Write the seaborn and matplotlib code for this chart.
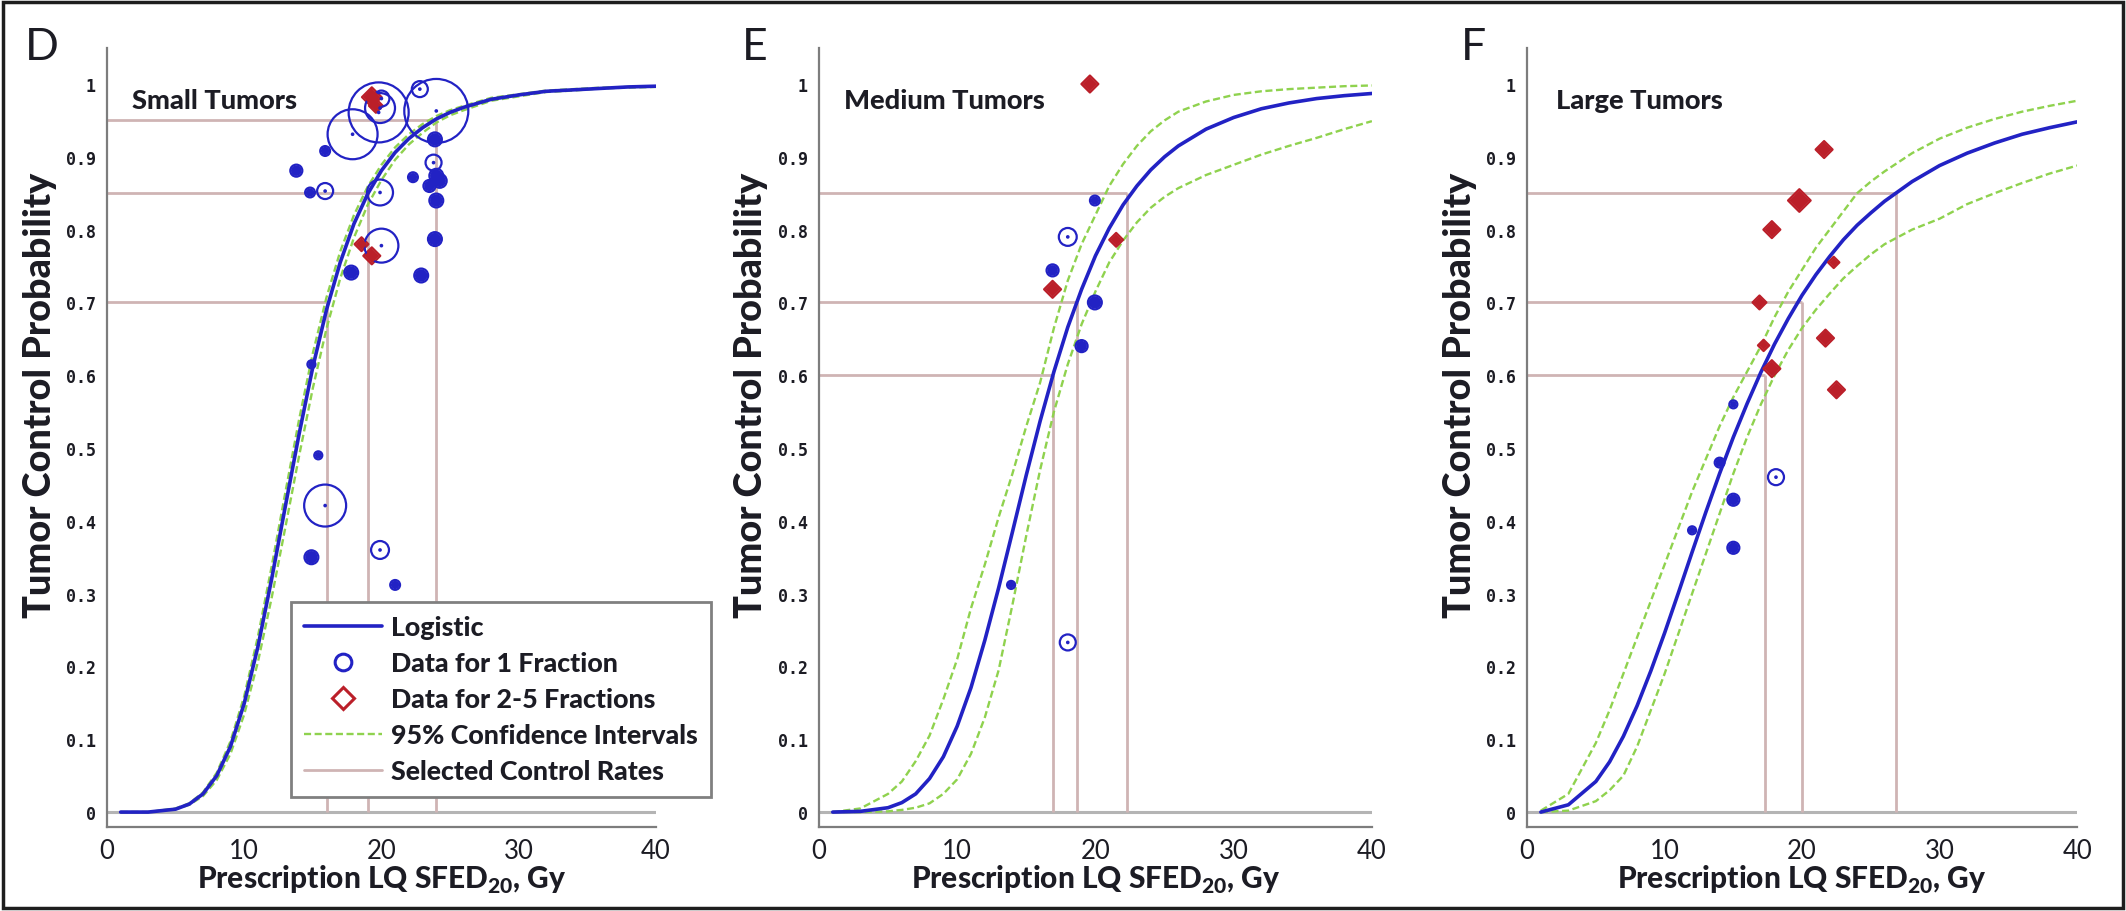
import numpy as np
import pandas as pd
import matplotlib
matplotlib.use("Agg")
import matplotlib.pyplot as plt
from matplotlib import font_manager
from matplotlib.font_manager import FontProperties
from matplotlib.textpath import TextPath
from matplotlib.lines import Line2D
from matplotlib.patches import Rectangle
import seaborn as sns

dose_grid = [1, 3, 5, 6, 7, 8, 9, 10, 11, 12, 13, 14, 15, 16, 17, 18, 19, 20,
             21, 22, 23, 24, 25, 26, 28, 30, 32, 34, 36, 38, 40]

# --- small tumors ---
small_fit = [0.000, 0.000, 0.004, 0.011, 0.025, 0.050, 0.090, 0.149, 0.227, 0.320, 0.420,
             0.519, 0.611, 0.690, 0.755, 0.808, 0.849, 0.881, 0.906, 0.925, 0.940, 0.952,
             0.961, 0.968, 0.979, 0.985, 0.990, 0.992, 0.994, 0.996, 0.997]
small_hi = [0.000, 0.000, 0.005, 0.012, 0.027, 0.054, 0.097, 0.159, 0.241, 0.337, 0.439,
            0.539, 0.630, 0.707, 0.770, 0.820, 0.859, 0.889, 0.913, 0.931, 0.945, 0.956,
            0.964, 0.970, 0.981, 0.986, 0.991, 0.993, 0.995, 0.996, 0.997]
small_lo = [0.000, 0.000, 0.004, 0.010, 0.022, 0.044, 0.080, 0.134, 0.206, 0.294, 0.391,
            0.489, 0.582, 0.664, 0.733, 0.789, 0.834, 0.868, 0.896, 0.917, 0.933, 0.947,
            0.957, 0.964, 0.977, 0.983, 0.989, 0.991, 0.994, 0.995, 0.996]
small_rates = [0.70, 0.85, 0.95]
small_doses = [16.0, 19.0, 24.0]
small_1fx_x = [17.9, 19.8, 19.9, 20.0, 24.0, 22.8, 23.9, 23.8, 24.0, 23.5, 24.25, 24.0, 22.3, 19.9,
               20.0, 23.9, 22.9, 17.8, 13.8, 15.9, 14.8, 15.9, 14.9, 15.4, 15.9, 14.9, 19.9, 21.0]
small_1fx_y = [0.931, 0.961, 0.967, 0.980, 0.963, 0.993, 0.924, 0.892, 0.874, 0.860, 0.867, 0.840,
               0.872, 0.851, 0.778, 0.787, 0.737, 0.741, 0.881, 0.853, 0.851, 0.908, 0.615, 0.490,
               0.421, 0.350, 0.360, 0.312]
small_1fx_n = [156, 225, 56, 16, 256, 16, 12, 16, 12, 9, 12, 12, 6, 42, 72, 12, 12, 12, 9, 16, 6, 6,
               4, 4, 110, 12, 20, 6]
small_mfx_x = [19.3, 19.6, 18.55, 19.3]
small_mfx_y = [0.982, 0.970, 0.780, 0.764]
small_mfx_n = [12, 6, 6, 9]

# --- medium tumors ---
medium_fit = [0.000, 0.001, 0.006, 0.013, 0.025, 0.046, 0.076, 0.118, 0.171, 0.236, 0.308,
              0.385, 0.463, 0.537, 0.605, 0.666, 0.718, 0.764, 0.802, 0.834, 0.860, 0.882,
              0.900, 0.915, 0.938, 0.954, 0.966, 0.974, 0.980, 0.984, 0.987]
medium_hi = [0.000, 0.005, 0.025, 0.042, 0.070, 0.105, 0.155, 0.210, 0.280, 0.340, 0.405,
             0.465, 0.530, 0.590, 0.665, 0.730, 0.780, 0.820, 0.860, 0.890, 0.915, 0.935,
             0.950, 0.962, 0.976, 0.985, 0.990, 0.993, 0.995, 0.997, 0.998]
medium_lo = [0.000, 0.000, 0.001, 0.003, 0.006, 0.012, 0.025, 0.045, 0.080, 0.130, 0.195,
             0.285, 0.380, 0.470, 0.550, 0.615, 0.670, 0.715, 0.755, 0.785, 0.810, 0.830,
             0.845, 0.857, 0.875, 0.889, 0.903, 0.915, 0.926, 0.938, 0.949]
medium_rates = [0.60, 0.70, 0.85]
medium_doses = [16.9, 18.7, 22.3]
medium_1fx_x = [19.96, 18.0, 16.9, 19.96, 19.0, 13.9, 18.0]
medium_1fx_y = [0.840, 0.790, 0.744, 0.700, 0.640, 0.312, 0.233]
medium_1fx_n = [6, 20, 9, 12, 9, 4, 16]
medium_mfx_x = [19.6, 21.5, 16.9]
medium_mfx_y = [1.000, 0.786, 0.718]
medium_mfx_n = [9, 6, 9]

# --- large tumors ---
large_fit = [0.000, 0.010, 0.042, 0.069, 0.104, 0.146, 0.194, 0.246, 0.301, 0.357, 0.412,
             0.465, 0.515, 0.561, 0.604, 0.643, 0.678, 0.710, 0.738, 0.763, 0.786, 0.806,
             0.823, 0.839, 0.866, 0.888, 0.905, 0.919, 0.931, 0.940, 0.948]
large_hi = [0.002, 0.025, 0.095, 0.140, 0.190, 0.240, 0.290, 0.340, 0.390, 0.440, 0.485,
            0.530, 0.570, 0.605, 0.640, 0.680, 0.715, 0.745, 0.775, 0.800, 0.825, 0.850,
            0.866, 0.880, 0.905, 0.925, 0.940, 0.952, 0.962, 0.970, 0.977]
large_lo = [0.000, 0.002, 0.015, 0.030, 0.050, 0.090, 0.140, 0.190, 0.245, 0.300, 0.355,
            0.410, 0.465, 0.515, 0.560, 0.600, 0.635, 0.665, 0.690, 0.712, 0.733, 0.750,
            0.766, 0.780, 0.800, 0.815, 0.835, 0.850, 0.864, 0.877, 0.888]
large_rates = [0.60, 0.70, 0.85]
large_doses = [17.3, 20.0, 26.8]
large_1fx_x = [15.0, 14.0, 18.1, 15.0, 12.0, 15.0]
large_1fx_y = [0.560, 0.480, 0.460, 0.429, 0.387, 0.363]
large_1fx_n = [4, 6, 16, 9, 4, 9]
large_mfx_x = [21.6, 19.8, 17.8, 22.3, 16.9, 17.2, 21.7, 17.8, 22.5]
large_mfx_y = [0.910, 0.840, 0.800, 0.755, 0.700, 0.641, 0.651, 0.609, 0.580]
large_mfx_n = [9, 16, 9, 4, 6, 4, 9, 9, 9]

panel_letters = ["D", "E", "F"]
panel_titles = ["Small Tumors", "Medium Tumors", "Large Tumors"]
x_ticks = [0, 10, 20, 30, 40]
y_ticks = [0, 0.1, 0.2, 0.3, 0.4, 0.5, 0.6, 0.7, 0.8, 0.9, 1]
x_label = r"Prescription LQ SFED$_{\mathbf{20}}$, Gy"
y_label = "Tumor Control Probability"
legend_labels = ["Logistic", "Data for 1 Fraction", "Data for 2-5 Fractions",
                 "95% Confidence Intervals", "Selected Control Rates"]

BLUE = "#2222c4"
RED = "#bb1f29"
GREEN = "#8fd24e"
RATE = "#cfb4b4"
ZERO = "#b4b4b4"
SPINE = "#7d7d7d"
TEXT = "#1c1c24"

sns.set_style("white")


def _w(v):
    if isinstance(v, str):
        return {"bold": 700, "heavy": 800, "black": 900, "semibold": 600,
                "demibold": 600}.get(v.lower(), 400)
    return int(v)


faces = font_manager.fontManager.ttflist
narrow = "DejaVu Sans"
for cand in ["Liberation Sans Narrow", "Lato", "Roboto", "Open Sans", "Noto Sans"]:
    if any(f.name == cand and _w(f.weight) >= 700 and f.style == "normal" for f in faces):
        narrow = cand
        break
# heaviest upright face of that family, the reference labels are very dark
heavy = max([_w(f.weight) for f in faces if f.name == narrow and f.style == "normal"] + [700])
heavy = min(heavy, 900)

plt.rcParams["font.family"] = [narrow, "DejaVu Sans"]
plt.rcParams["mathtext.fontset"] = "custom"
plt.rcParams["mathtext.rm"] = narrow
plt.rcParams["mathtext.bf"] = "%s:weight=%d" % (narrow, heavy)


def fit_size(text, target_px, weight=heavy):
    # font size (pt) that gives the text the pixel width measured on the reference
    tp = TextPath((0, 0), text, size=10, prop=FontProperties(family=narrow, weight=weight))
    return 10 * target_px / (tp.get_extents().width * 100 / 72)


title_fs = fit_size("Medium Tumors", 198)
xlabel_fs = fit_size("Prescription LQ SFED20, Gy", 375)
ylabel_fs = fit_size(y_label, 445)
legend_fs = fit_size("95% Confidence Intervals", 305)
xtick_fs = fit_size("10", 27, weight="normal")

AREA_PER_N = 8.3


def draw_points(ax, xs, ys, ns, marker, color, fill_all=False):
    df = pd.DataFrame({"x": xs, "y": ys, "n": ns})
    df["s"] = df["n"] * AREA_PER_N
    sns.scatterplot(data=df, x="x", y="y", size="s", sizes=(df.s.min(), df.s.max()),
                    marker=marker, facecolor="none", edgecolor=color, linewidth=1.6,
                    legend=False, ax=ax, zorder=5)
    filled = (df["n"] <= 12) | fill_all
    dot = np.where(filled, (np.sqrt(df["s"]) - 1.0) ** 2, 7.0)
    sns.scatterplot(x=df["x"], y=df["y"], s=dot, marker=marker, color=color,
                    linewidth=0, legend=False, ax=ax, zorder=6)


fig = plt.figure(figsize=(21.26, 9.12), dpi=100)
lefts = [0.0503, 0.3852, 0.7183]
widths = [0.2582, 0.2601, 0.2587]
letter_x = [0.0198, 0.3551, 0.6933]

panels = [
    (small_fit, small_hi, small_lo, small_rates, small_doses,
     (small_1fx_x, small_1fx_y, small_1fx_n), (small_mfx_x, small_mfx_y, small_mfx_n)),
    (medium_fit, medium_hi, medium_lo, medium_rates, medium_doses,
     (medium_1fx_x, medium_1fx_y, medium_1fx_n), (medium_mfx_x, medium_mfx_y, medium_mfx_n)),
    (large_fit, large_hi, large_lo, large_rates, large_doses,
     (large_1fx_x, large_1fx_y, large_1fx_n), (large_mfx_x, large_mfx_y, large_mfx_n)),
]

for i, (fit, hi, lo, rates, doses, one, multi) in enumerate(panels):
    ax = fig.add_axes([lefts[i], 0.0925, widths[i], 0.8542])
    ax.set_facecolor("none")

    ax.axhline(0, color=ZERO, lw=2.2, zorder=1)
    for r, d in zip(rates, doses):
        ax.hlines(r, 0, d, color=RATE, lw=2.0, zorder=1)
        ax.vlines(d, 0, r, color=RATE, lw=2.0, zorder=1)

    sns.lineplot(x=dose_grid, y=hi, color=GREEN, lw=1.7, ls=(0, (3, 1.5)),
                 sort=False, estimator=None, ax=ax, zorder=2)
    sns.lineplot(x=dose_grid, y=lo, color=GREEN, lw=1.7, ls=(0, (3, 1.5)),
                 sort=False, estimator=None, ax=ax, zorder=2)
    sns.lineplot(x=dose_grid, y=fit, color=BLUE, lw=2.6,
                 sort=False, estimator=None, ax=ax, zorder=3)

    draw_points(ax, *multi, "D", RED, fill_all=True)
    draw_points(ax, *one, "o", BLUE)

    ax.set_xlim(0, 40)
    ax.set_ylim(-0.02, 1.05)
    ax.set_xticks(x_ticks)
    ax.set_yticks(y_ticks)
    ax.set_xticklabels([str(t) for t in x_ticks], fontsize=xtick_fs, color=TEXT)
    ax.set_yticklabels([("%g" % t) for t in y_ticks], fontsize=12, fontweight="bold",
                       family="DejaVu Sans Mono", color=TEXT)
    ax.tick_params(direction="in", length=5, width=1.2, color=SPINE)
    ax.tick_params(axis="x", pad=8)
    ax.tick_params(axis="y", pad=8)
    for side in ["top", "right"]:
        ax.spines[side].set_visible(False)
    for side in ["left", "bottom"]:
        ax.spines[side].set_color(SPINE)
        ax.spines[side].set_linewidth(1.6)

    ax.set_xlabel(x_label, fontsize=xlabel_fs, fontweight=heavy, color=TEXT)
    ax.xaxis.set_label_coords(0.5, -0.067)
    ax.xaxis.label.set_va("center")
    ax.set_ylabel(y_label, fontsize=ylabel_fs, fontweight=heavy, color=TEXT)
    ax.yaxis.set_label_coords(-0.122, 0.555)
    ax.yaxis.label.set_va("center")

    ax.text(1.8 if i < 2 else 2.1, 0.978, panel_titles[i], fontsize=title_fs, fontweight=heavy,
            color=TEXT, ha="left", va="center")
    fig.text(letter_x[i], 1 - 47 / 912, panel_letters[i], fontsize=32, color=TEXT,
             ha="center", va="center")

    if i == 0:
        handles = [
            Line2D([], [], color=BLUE, lw=2.6),
            Line2D([], [], ls="none", marker="o", ms=12, mfc="none", mec=BLUE, mew=2.2),
            Line2D([], [], ls="none", marker="D", ms=11, mfc="none", mec=RED, mew=2.2),
            Line2D([], [], color=GREEN, lw=1.7, ls=(0, (3, 1.5))),
            Line2D([], [], color=RATE, lw=2.0),
        ]
        leg = ax.legend(handles, legend_labels, loc="upper left",
                        bbox_to_anchor=(291 / 2126, 1 - 603 / 912),
                        bbox_transform=fig.transFigure, borderaxespad=0,
                        prop={"family": [narrow, "DejaVu Sans"], "weight": heavy,
                              "size": legend_fs},
                        handlelength=2.9, handletextpad=0.35, labelspacing=0.45,
                        borderpad=0.5, fancybox=False, framealpha=1, edgecolor="#808080")
        leg.get_frame().set_linewidth(2.0)
        leg.set_zorder(10)
        for t in leg.get_texts():
            t.set_color(TEXT)

fig.patches.append(Rectangle((3 / 2126, 3 / 912), 1 - 6 / 2126, 1 - 6 / 912,
                             transform=fig.transFigure, fill=False,
                             edgecolor="#1e1e1e", lw=2.5))

fig.savefig("out.png", dpi=100)
